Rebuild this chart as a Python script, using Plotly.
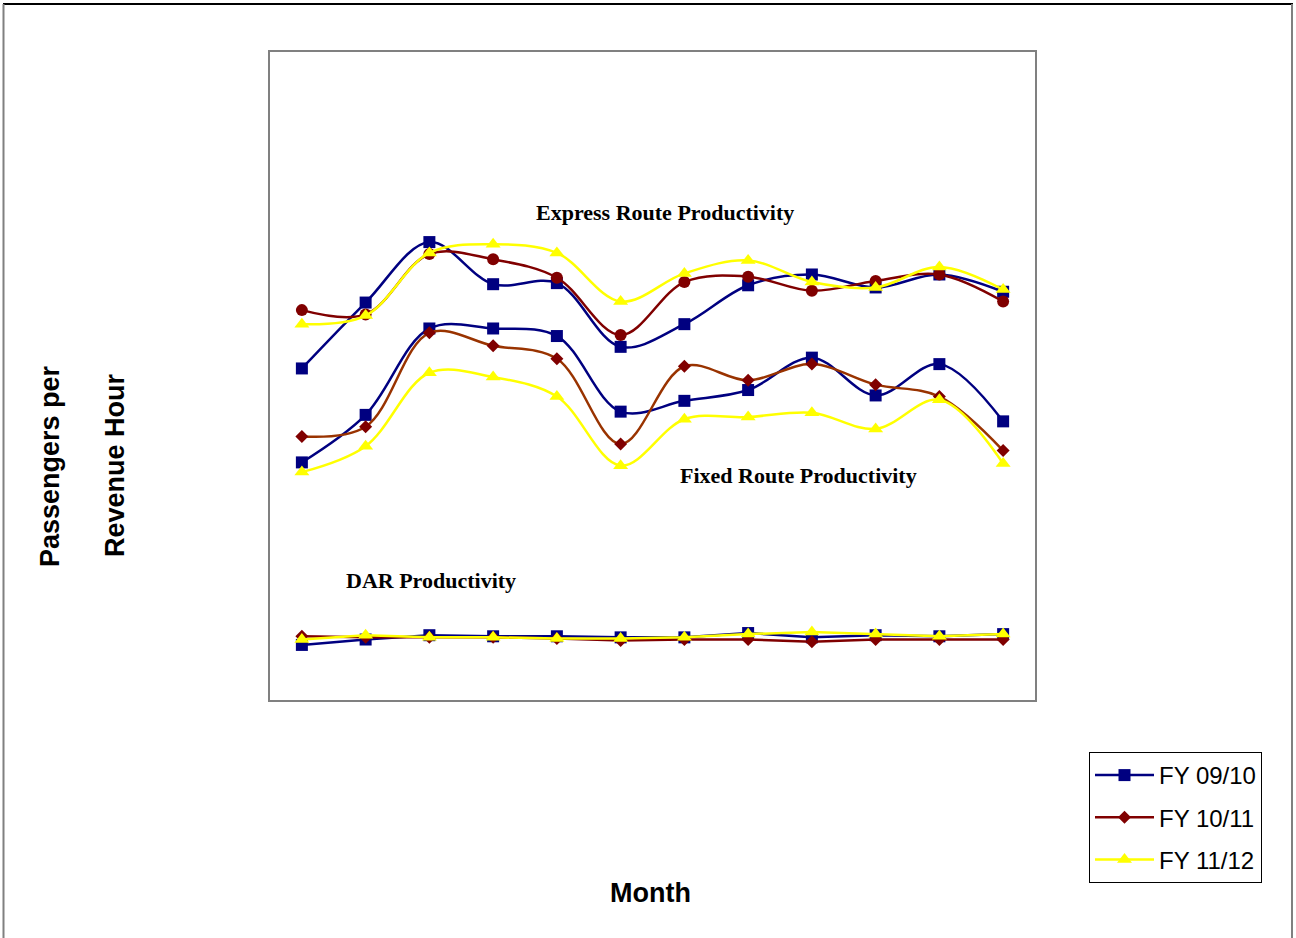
import plotly.graph_objects as go

# Fiscal-year months (July through June)
months = ["Jul", "Aug", "Sep", "Oct", "Nov", "Dec", "Jan", "Feb", "Mar", "Apr", "May", "Jun"]
fiscal_years = ["FY 09/10", "FY 10/11", "FY 11/12"]

# Passengers per revenue hour by service type
express_0910 = [30.7, 36.8, 42.4, 38.5, 38.6, 32.7, 34.8, 38.4, 39.4, 38.2, 39.4, 37.8]
express_1011 = [36.1, 35.7, 41.3, 40.8, 39.1, 33.8, 38.7, 39.2, 37.9, 38.8, 39.4, 36.9]
express_1112 = [34.8, 35.6, 41.4, 42.2, 41.4, 36.9, 39.5, 40.7, 38.7, 38.2, 40.1, 38.0]

fixed_0910 = [22.0, 26.4, 34.4, 34.4, 33.7, 26.7, 27.7, 28.7, 31.7, 28.2, 31.1, 25.8]
fixed_1011 = [24.4, 25.3, 34.0, 32.8, 31.6, 23.7, 30.9, 29.6, 31.1, 29.2, 28.1, 23.1]
fixed_1112 = [21.1, 23.5, 30.3, 29.9, 28.1, 21.7, 26.0, 26.2, 26.6, 25.1, 27.8, 21.9]

dar_0910 = [5.1, 5.6, 6.0, 5.9, 5.9, 5.8, 5.8, 6.2, 5.8, 6.0, 5.9, 6.1]
dar_1011 = [5.9, 5.8, 5.8, 5.8, 5.7, 5.5, 5.6, 5.6, 5.4, 5.6, 5.6, 5.6]
dar_1112 = [5.6, 6.0, 5.8, 5.8, 5.7, 5.7, 5.8, 6.1, 6.3, 6.1, 5.9, 6.1]

NAVY = "#000080"
MAROON = "#800000"
BROWN = "#993300"
YELLOW = "#FFFF00"

# Plot-area geometry (pixels) used to place annotations and frame lines
W, H = 1296, 938
PL, PR, PT, PB = 270, 1035, 52, 700


def px_x(x):
    return (x - PL) / (PR - PL)


def px_y(y):
    return (PB - y) / (PB - PT)


fig = go.Figure()


def add_series(y, name, line_color, marker_color, symbol, size, legend, shape="spline"):
    fig.add_trace(go.Scatter(
        x=months, y=y, name=name, mode="lines+markers",
        line=dict(color=line_color, width=2.5, shape=shape, smoothing=1),
        marker=dict(symbol=symbol, size=size, color=marker_color),
        showlegend=legend, legendgroup=name,
    ))


# Express routes
add_series(express_0910, fiscal_years[0], NAVY, NAVY, "square", 12, False)
# Fixed routes
add_series(fixed_0910, fiscal_years[0], NAVY, NAVY, "square", 12, False)
# Dial-a-ride
add_series(dar_0910, fiscal_years[0], NAVY, NAVY, "square", 12, True, "linear")

add_series(express_1011, fiscal_years[1], MAROON, MAROON, "circle", 12, False)
add_series(fixed_1011, fiscal_years[1], BROWN, MAROON, "diamond", 10, False)
add_series(dar_1011, fiscal_years[1], MAROON, MAROON, "diamond", 10, True, "linear")

add_series(express_1112, fiscal_years[2], YELLOW, YELLOW, "triangle-up", 13, False)
add_series(fixed_1112, fiscal_years[2], YELLOW, YELLOW, "triangle-up", 13, False)
add_series(dar_1112, fiscal_years[2], YELLOW, YELLOW, "triangle-up", 13, True, "linear")

serif = "Liberation Serif, Times New Roman, serif"
sans = "Liberation Sans, Arial, sans-serif"

annotations = [
    dict(text="<b>Express Route Productivity</b>", x=px_x(665), y=px_y(212),
         font=dict(family=serif, size=22, color="black")),
    dict(text="<b>Fixed Route Productivity</b>", x=px_x(798), y=px_y(475),
         font=dict(family=serif, size=22, color="black")),
    dict(text="<b>DAR Productivity</b>", x=px_x(431), y=px_y(580),
         font=dict(family=serif, size=22, color="black")),
    dict(text="<b>Passengers per</b>", x=px_x(50), y=px_y(466), textangle=-90,
         font=dict(family=sans, size=27, color="black")),
    dict(text="<b>Revenue Hour</b>", x=px_x(115), y=px_y(465), textangle=-90,
         font=dict(family=sans, size=27, color="black")),
    dict(text="<b>Month</b>", x=px_x(650), y=px_y(893),
         font=dict(family=sans, size=27, color="black")),
]
for a in annotations:
    a.update(xref="paper", yref="paper", showarrow=False, xanchor="center", yanchor="middle")

# Outer chart frame
shapes = [
    dict(type="line", x0=px_x(3), x1=px_x(1293), y0=px_y(4), y1=px_y(4),
         line=dict(color="black", width=2)),
    dict(type="line", x0=px_x(3.5), x1=px_x(3.5), y0=px_y(4), y1=px_y(960),
         line=dict(color="#808080", width=2)),
    dict(type="line", x0=px_x(1292), x1=px_x(1292), y0=px_y(4), y1=px_y(960),
         line=dict(color="#808080", width=2)),
]
for s in shapes:
    s.update(xref="paper", yref="paper")

fig.update_layout(
    width=W, height=H,
    margin=dict(l=PL, r=W - PR, t=PT, b=H - PB),
    paper_bgcolor="white", plot_bgcolor="white",
    showlegend=True,
    legend=dict(
        xref="container", yref="container",
        x=1089 / W, y=1 - 752 / H, xanchor="left", yanchor="top",
        bgcolor="white", bordercolor="black", borderwidth=1,
        font=dict(family=sans, size=24, color="black"),
        traceorder="grouped", tracegroupgap=8,
        itemwidth=59,
    ),
    annotations=annotations,
    shapes=shapes,
)
fig.update_xaxes(range=[-0.5, 11.5], showticklabels=False, ticks="", showgrid=False,
                 zeroline=False, showline=True, mirror=True, linecolor="#808080", linewidth=2)
fig.update_yaxes(range=[0, 60], showticklabels=False, ticks="", showgrid=False, zeroline=False,
                 showline=True, mirror=True, linecolor="#808080", linewidth=2)

fig.write_html("out.html")
